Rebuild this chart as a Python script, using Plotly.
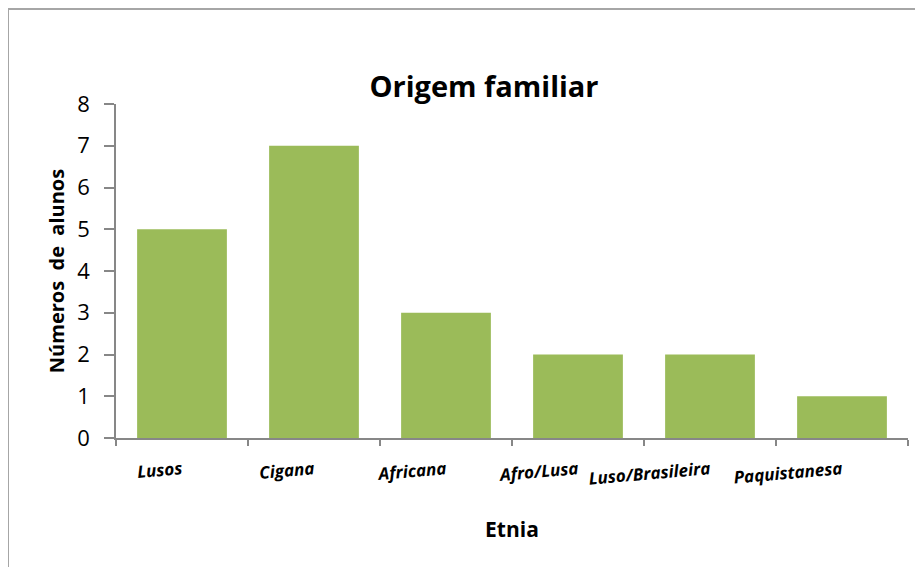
import plotly.graph_objects as go

categories = ["Lusos", "Cigana", "Africana", "Afro/Lusa", "Luso/Brasileira", "Paquistanesa"]
values = [5, 7, 3, 2, 2, 1]
y_ticks = [0, 1, 2, 3, 4, 5, 6, 7, 8]

# page body has an 8px margin, so the figure is drawn at (8, 8)
OFF = 8
W, H = 923 - OFF, 567 - OFF
L, R, T, B = 116 - OFF, 15, 104 - OFF, 129
pw, ph = W - L - R, H - T - B

FONT = "Open Sans"
AX = "#878787"

fig = go.Figure(go.Bar(x=categories, y=values, marker=dict(color="#9BBB59", line=dict(width=0)),
                       width=0.68))

fig.update_layout(
    width=W, height=H,
    margin=dict(l=L, r=R, t=T, b=B),
    paper_bgcolor="white", plot_bgcolor="white",
    showlegend=False,
    font=dict(family=FONT, color="black"),
    title=dict(text="Origem familiar", x=(484 - OFF) / W, xanchor="center", y=1 - (87 - OFF) / H,
               yanchor="middle",
               font=dict(family=FONT, size=29, weight="bold", color="black")),
    xaxis=dict(
        showline=True, linecolor=AX, linewidth=1.5,
        ticks="outside", ticklen=6, tickcolor=AX, tickwidth=1.5,
        tickson="boundaries",
        tickangle=-5,
        tickfont=dict(family=FONT, size=17, weight="bold", style="italic", color="black"),
        ticklabelstandoff=14,
        title=dict(text="Etnia", font=dict(family=FONT, size=21, weight="bold"), standoff=34),
        showgrid=False, zeroline=False,
    ),
    yaxis=dict(
        range=[0, 8], tickvals=y_ticks,
        showline=True, linecolor=AX, linewidth=1.5,
        ticks="outside", ticklen=10, tickcolor=AX, tickwidth=1.5,
        tickfont=dict(family=FONT, size=22, color="black"),
        ticklabelstandoff=10,
        title=dict(text="Números  de  alunos", font=dict(family=FONT, size=20, weight="bold"), standoff=7),
        showgrid=False, zeroline=False,
    ),
    shapes=[dict(type="rect", xref="paper", yref="paper",
                 x0=(8 - OFF - L) / pw, x1=(W + 10 - L) / pw,
                 y0=-(B + 10) / ph, y1=(ph + T - (9 - OFF)) / ph,
                 line=dict(color="#A6A6A6", width=2), fillcolor="rgba(0,0,0,0)", layer="below")],
)

fig.write_html("out.html")
